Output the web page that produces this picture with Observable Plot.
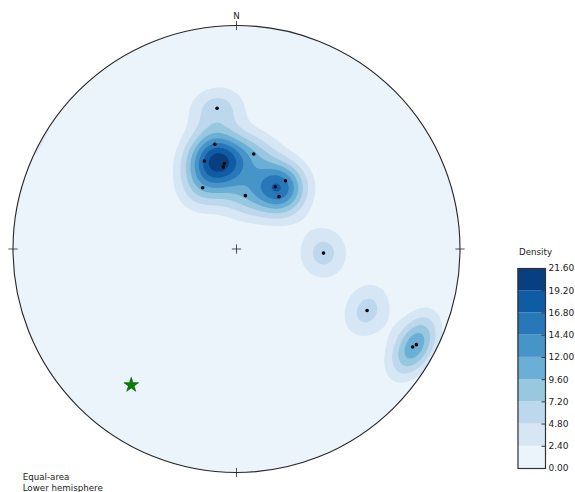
<!DOCTYPE html>
<html><head><meta charset="utf-8">
<script src="https://cdn.jsdelivr.net/npm/d3@7"></script>
<script src="https://cdn.jsdelivr.net/npm/@observablehq/plot@0.6"></script>
<style>
body{margin:0;background:#fff;font-family:"DejaVu Sans",sans-serif;}
#wrap{position:relative;width:575px;height:492px;overflow:hidden;background:#fff;}
#wrap svg{position:absolute;}
.lbl{position:absolute;font-size:8.7px;color:#222;white-space:nowrap;line-height:1;font-family:"DejaVu Sans",sans-serif;}
</style></head><body>
<div id="wrap"></div>
<script>
// Poles (trend / plunge, degrees) read from the net
const poleTrend  = [352.0, 348.1, 339.8, 351.6, 350.6, 9.9, 331.0, 8.8, 35.2, 31.3, 38.4, 92.4, 115.2, 119.1, 118.0];
const polePlunge = [36.2, 50.1, 55.2, 58.0, 59.2, 54.2, 64.1, 70.1, 59.1, 63.1, 65.3, 58.2, 35.9, 11.0, 10.0];
// Highlighted (star) direction
const starTrend  = [217.9];
const starPlunge = [24.0];
// Contour levels and colorbar
const levels = [0, 2.4, 4.8, 7.2, 9.6, 12.0, 14.4, 16.8, 19.2, 21.6];
const bandColors = ["#ecf4fb","#d6e6f4","#bdd7ec","#98c7e0","#6baed6","#4795c8","#2878b9","#105ca4","#083f81"];
const netLabels = ["Equal-area", "Lower hemisphere"];
const colorbarTitle = "Density";
// Exponential (Kamb-style) kernel settings
const KAPPA = 80, UNIT = 5.8;

const rad = Math.PI / 180;
function vec(t, p) { t *= rad; p *= rad; return [Math.cos(p)*Math.sin(t), Math.cos(p)*Math.cos(t), Math.sin(p)]; }
function project(t, p) { const a = (90 - p) * rad; const r = Math.SQRT2 * Math.sin(a / 2); return {x: r * Math.sin(t * rad), y: r * Math.cos(t * rad)}; }
const poleVecs = poleTrend.map((t, i) => vec(t, polePlunge[i]));
function density(x, y) {
  const r = Math.min(Math.hypot(x, y), Math.SQRT2);
  const a = 2 * Math.asin(r / Math.SQRT2);
  const p = Math.PI / 2 - a, t = Math.atan2(x, y);
  const v = [Math.cos(p)*Math.sin(t), Math.cos(p)*Math.cos(t), Math.sin(p)];
  let s = 0;
  for (const u of poleVecs) { const c = Math.abs(v[0]*u[0] + v[1]*u[1] + v[2]*u[2]); s += Math.exp(KAPPA * (c - 1)); }
  return UNIT * s;
}
const poles = poleTrend.map((t, i) => project(t, polePlunge[i]));
const stars = starTrend.map((t, i) => project(t, starPlunge[i]));

function netBackground(index, {x, y}) {
  const cx = x(0), cy = y(0), R = x(1) - x(0);
  const g = d3.create("svg:g");
  g.append("defs").append("clipPath").attr("id", "netclip")
    .append("circle").attr("cx", cx).attr("cy", cy).attr("r", R);
  g.append("circle").attr("cx", cx).attr("cy", cy).attr("r", R).attr("fill", bandColors[0]);
  return g.node();
}
function netFrame(index, {x, y}) {
  const cx = x(0), cy = y(0), R = x(1) - x(0), h = 4.6;
  const g = d3.create("svg:g").attr("fill", "none").attr("stroke", "#262626");
  g.append("circle").attr("cx", cx).attr("cy", cy).attr("r", R).attr("stroke-width", 1.1);
  for (const ang of [0, 90, 180, 270]) {
    const s = Math.sin(ang * rad), c = Math.cos(ang * rad);
    g.append("line").attr("x1", cx + (R - h) * s).attr("y1", cy - (R - h) * c)
      .attr("x2", cx + (R + h) * s).attr("y2", cy - (R + h) * c).attr("stroke-width", 0.8);
  }
  g.append("line").attr("x1", cx - h).attr("x2", cx + h).attr("y1", cy).attr("y2", cy).attr("stroke-width", 0.8);
  g.append("line").attr("x1", cx).attr("x2", cx).attr("y1", cy - h).attr("y2", cy + h).attr("stroke-width", 0.8);
  g.append("text").attr("x", cx).attr("y", cy - R - 7).attr("text-anchor", "middle")
    .attr("fill", "#222").attr("stroke", "none").attr("font-size", 8.7).text("N");
  return g.node();
}

const main = Plot.plot({
  width: 575, height: 492,
  marginLeft: 13, marginRight: 115, marginTop: 26, marginBottom: 20,
  x: {domain: [-1, 1], axis: null},
  y: {domain: [-1, 1], axis: null},
  color: {type: "threshold", domain: levels.slice(1, -1), range: bandColors},
  style: {fontFamily: "DejaVu Sans", background: "#fff"},
  marks: [
    netBackground,
    Plot.contour({fill: density, x1: -1, x2: 1, y1: -1, y2: 1, thresholds: levels.slice(1, -1), pixelSize: 1}),
    netFrame,
    Plot.dot(poles, {x: "x", y: "y", r: 1.8, fill: "black"}),
    Plot.dot(stars, {x: "x", y: "y", symbol: "star", r: 4.6, fill: "#008000", stroke: "#005000", strokeWidth: 0.6})
  ]
});
main.style.left = "0px"; main.style.top = "0px";
main.querySelectorAll('g[aria-label="contour"]').forEach(g => g.setAttribute("clip-path", "url(#netclip)"));

const bands = bandColors.map((c, i) => ({lo: levels[i], hi: levels[i + 1], c}));
const cbar = Plot.plot({
  width: 75, height: 252,
  marginLeft: 17.5, marginRight: 30, marginTop: 28, marginBottom: 24,
  x: {domain: [0, 1], axis: null},
  y: {domain: [levels[0], levels[levels.length - 1]], axis: "right", ticks: levels,
      tickFormat: d => d.toFixed(2), tickSize: 0, tickPadding: 3, label: null},
  color: {type: "identity"},
  style: {fontFamily: "DejaVu Sans", fontSize: "9px", color: "#222", background: "#fff"},
  marks: [
    Plot.rect(bands, {x1: 0, x2: 1, y1: "lo", y2: "hi", fill: "c"}),
    Plot.ruleY(levels.slice(1, -1), {stroke: "#333", insetLeft: 24}),
    Plot.frame({stroke: "#333", strokeWidth: 1.2})
  ]
});
cbar.style.left = "500px"; cbar.style.top = "240px";

const wrap = document.getElementById("wrap");
wrap.appendChild(main);
wrap.appendChild(cbar);
function label(text, left, top, extra) {
  const d = document.createElement("div");
  d.className = "lbl"; d.textContent = text;
  d.style.left = left + "px"; d.style.top = top + "px";
  if (extra) Object.assign(d.style, extra);
  wrap.appendChild(d);
}
label(colorbarTitle, 519, 247.5);
label(netLabels[0], 22.7, 472.5);
label(netLabels[1], 22.7, 483.5);
</script>
</body></html>
